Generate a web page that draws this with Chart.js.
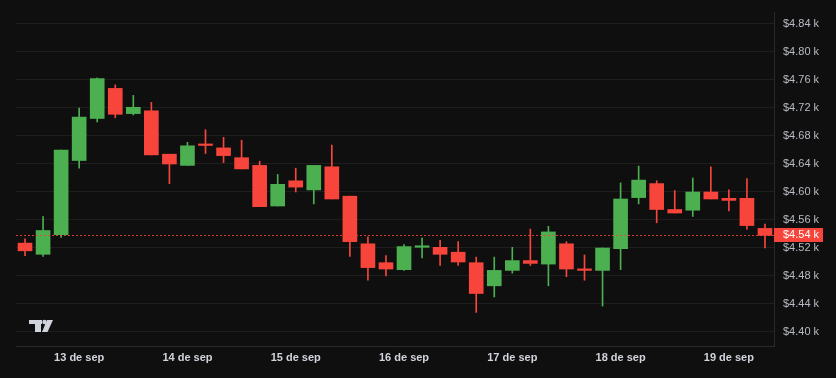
<!DOCTYPE html>
<html>
<head>
<meta charset="utf-8">
<script src="https://cdn.jsdelivr.net/npm/chart.js@4.4.1/dist/chart.umd.min.js"></script>
<style>
  html, body { margin: 0; padding: 0; background: #0f0f0f; }
  #wrap { width: 836px; height: 378px; }
</style>
</head>
<body>
<div id="wrap"><canvas id="c" width="836" height="378"></canvas></div>
<script>
// 4-hour candles, 12 sep 12:00 -> 19 sep 08:00
const categories = [
  '12 sep 12:00','12 sep 16:00','12 sep 20:00',
  '13 sep 00:00','13 sep 04:00','13 sep 08:00','13 sep 12:00','13 sep 16:00','13 sep 20:00',
  '14 sep 00:00','14 sep 04:00','14 sep 08:00','14 sep 12:00','14 sep 16:00','14 sep 20:00',
  '15 sep 00:00','15 sep 04:00','15 sep 08:00','15 sep 12:00','15 sep 16:00','15 sep 20:00',
  '16 sep 00:00','16 sep 04:00','16 sep 08:00','16 sep 12:00','16 sep 16:00','16 sep 20:00',
  '17 sep 00:00','17 sep 04:00','17 sep 08:00','17 sep 12:00','17 sep 16:00','17 sep 20:00',
  '18 sep 00:00','18 sep 04:00','18 sep 08:00','18 sep 12:00','18 sep 16:00','18 sep 20:00',
  '19 sep 00:00','19 sep 04:00','19 sep 08:00'
];
const openValues  = [4527,4511,4539,4645,4705,4748,4712,4716,4654,4638,4667,4663,4649,4638,4580,4616,4603,4636,4594,4526,4499,4489,4521,4521,4514,4499,4466,4488,4502,4497,4526,4490,4488,4519,4592,4612,4575,4574,4600,4591,4591,4548];
const highValues  = [4533,4565,4660,4720,4763,4753,4738,4728,4654,4671,4689,4678,4674,4644,4625,4634,4638,4667,4594,4536,4509,4525,4534,4531,4529,4507,4507,4521,4547,4551,4529,4510,4520,4613,4637,4616,4602,4620,4636,4603,4619,4554];
const lowValues   = [4509,4508,4535,4634,4700,4706,4710,4653,4612,4638,4655,4642,4633,4579,4580,4600,4583,4590,4508,4474,4480,4488,4506,4495,4495,4428,4450,4484,4495,4466,4479,4474,4437,4489,4583,4556,4570,4565,4590,4573,4547,4520];
const closeValues = [4516,4545,4660,4707,4762,4711,4721,4653,4640,4666,4666.5,4652,4633,4579,4611,4607,4638,4590,4529,4492,4490,4522,4521.5,4511,4500,4455,4488,4502,4498,4543,4490,4488,4520,4590,4617,4575,4570,4600,4590,4588,4552,4538];
const xTickLabels = ['13 de sep','14 de sep','15 de sep','16 de sep','17 de sep','18 de sep','19 de sep'];
const yTickValues = [4400,4440,4480,4520,4560,4600,4640,4680,4720,4760,4800,4840];

const UP = '#4caf50', DOWN = '#f7453b';
const colors = openValues.map((o, i) => closeValues[i] >= o ? UP : DOWN);
const bodies = openValues.map((o, i) => [o, closeValues[i]]);
const wicks = lowValues.map((l, i) => [l, highValues[i]]);

const midnightIdx = categories.map((c, i) => c.endsWith('00:00') ? i : -1).filter(i => i >= 0);
const tickTextFor = {};
midnightIdx.forEach((idx, k) => { tickTextFor[idx] = xTickLabels[k]; });

const fmt = v => '$' + (v / 1000).toFixed(2) + ' k';
const lastClose = closeValues[closeValues.length - 1];

const overlay = {
  id: 'overlay',
  afterDatasetsDraw(chart) {
    const { ctx, chartArea: a, scales: { y } } = chart;
    const py = Math.round(y.getPixelForValue(lastClose)) + 0.5;
    ctx.save();
    ctx.strokeStyle = 'rgba(247,69,59,0.85)';
    ctx.lineWidth = 1;
    ctx.setLineDash([2, 2]);
    ctx.beginPath();
    ctx.moveTo(a.left, py);
    ctx.lineTo(a.right, py);
    ctx.stroke();
    ctx.restore();
  },
  afterDraw(chart) {
    const { ctx, chartArea: a, scales: { y } } = chart;
    const py = y.getPixelForValue(lastClose);
    ctx.save();
    ctx.fillStyle = DOWN;
    ctx.fillRect(a.right, Math.round(py - 7), 49, 14);
    ctx.fillStyle = '#ffffff';
    ctx.font = '11px "Liberation Sans", Arial, sans-serif';
    ctx.textBaseline = 'middle';
    ctx.textAlign = 'left';
    ctx.fillText(fmt(lastClose), a.right + 9, py);
    // TradingView-like logo
    ctx.fillStyle = '#d1d4dc';
    ctx.fillRect(29, 320, 13, 4);
    ctx.fillRect(35, 320, 6, 12);
    ctx.beginPath();
    ctx.arc(44.5, 322, 2.2, 0, Math.PI * 2);
    ctx.fill();
    ctx.beginPath();
    ctx.moveTo(47, 320);
    ctx.lineTo(53, 320);
    ctx.lineTo(47.5, 332);
    ctx.lineTo(42, 332);
    ctx.closePath();
    ctx.fill();
    ctx.restore();
  }
};

const bg = {
  id: 'bg',
  beforeDraw(chart) {
    const { ctx, width, height } = chart;
    ctx.save();
    ctx.fillStyle = '#0f0f0f';
    ctx.fillRect(0, 0, width, height);
    ctx.restore();
  }
};

new Chart(document.getElementById('c'), {
  type: 'bar',
  data: {
    labels: categories,
    datasets: [
      {
        label: 'body',
        data: bodies,
        backgroundColor: colors,
        borderWidth: 0,
        barThickness: 14,
        minBarLength: 1.5,
        grouped: false,
        order: 0
      },
      {
        label: 'wick',
        data: wicks,
        backgroundColor: colors,
        borderWidth: 0,
        barThickness: 1,
        grouped: false,
        order: 1
      }
    ]
  },
  options: {
    responsive: false,
    animation: false,
    devicePixelRatio: 1,
    layout: { padding: { left: 16, top: 12, right: 0, bottom: 0 } },
    plugins: { legend: { display: false }, tooltip: { enabled: false } },
    scales: {
      x: {
        type: 'category',
        offset: true,
        grid: { display: false, drawTicks: false },
        border: { display: true, color: '#2a2a2a' },
        ticks: {
          autoSkip: false,
          maxRotation: 0,
          padding: 5,
          color: '#d1d4dc',
          font: { family: '"Liberation Sans", Arial, sans-serif', size: 11, weight: 'bold' },
          callback: (v, i) => tickTextFor[i] || ''
        },
        afterFit: s => { s.height = 32; s.paddingLeft = 0; s.paddingRight = 0; }
      },
      y: {
        type: 'linear',
        position: 'right',
        min: 4380,
        max: 4857.14,
        grid: { color: '#1e1e1e', drawTicks: false },
        border: { display: true, color: '#2a2a2a' },
        afterBuildTicks: s => { s.ticks = yTickValues.map(v => ({ value: v })); },
        ticks: {
          padding: 9,
          color: '#b8bbc2',
          font: { family: '"Liberation Sans", Arial, sans-serif', size: 11 },
          callback: v => fmt(v)
        },
        afterFit: s => { s.width = 62; s.paddingTop = 0; s.paddingBottom = 0; }
      }
    }
  },
  plugins: [bg, overlay]
});
</script>
</body>
</html>
